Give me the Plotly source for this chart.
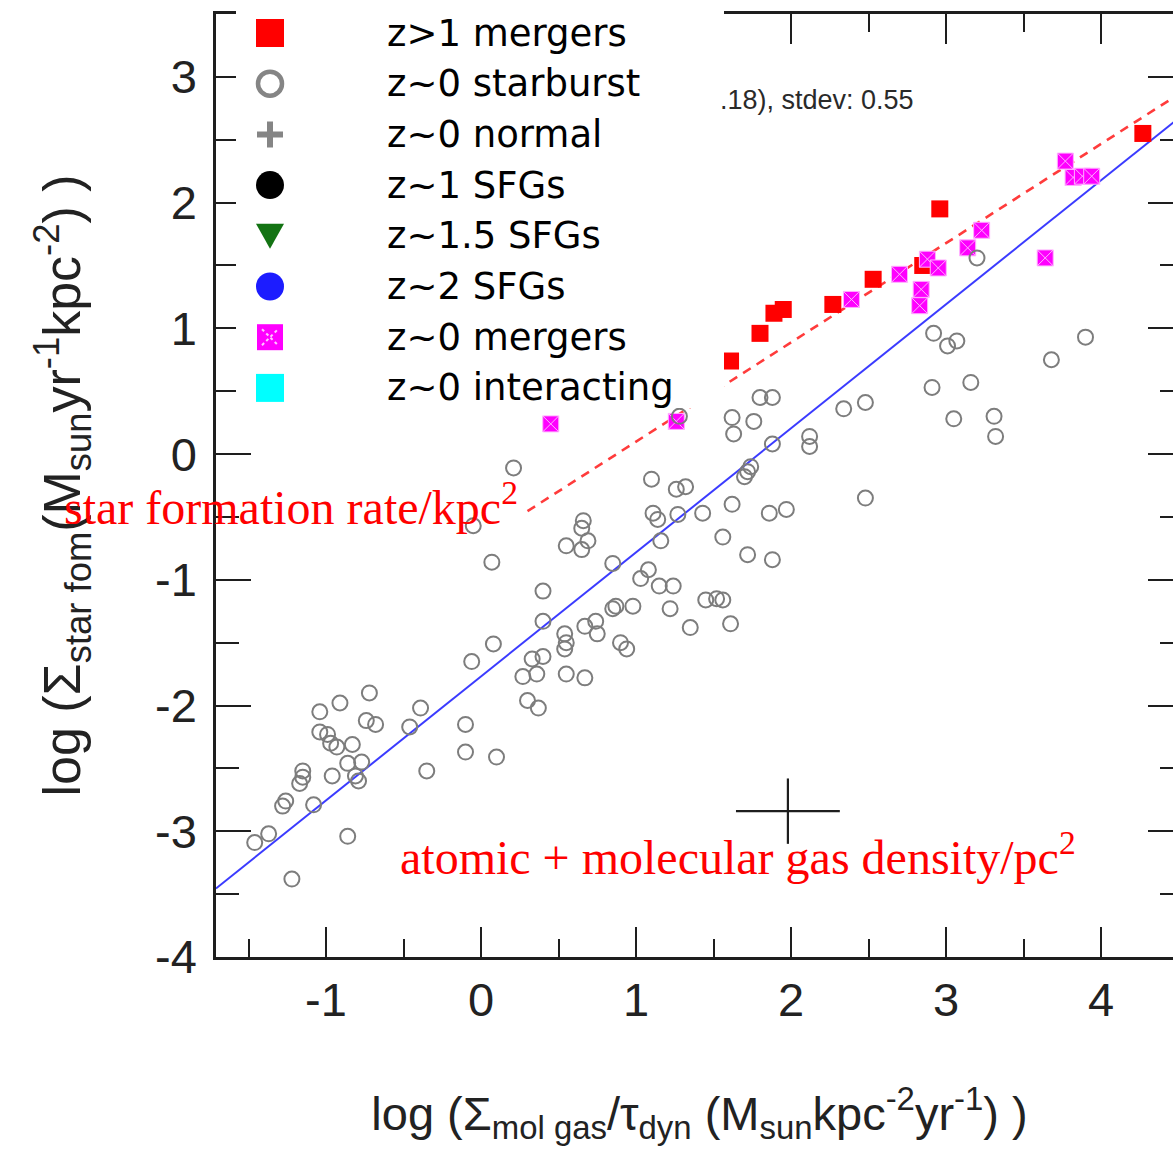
import plotly.graph_objects as go

# ---------------------------------------------------------------- data
# z>1 mergers
hiz_merger_x = [1.61, 1.80, 1.89, 1.95, 2.27, 2.53, 2.85, 2.96, 4.27]
hiz_merger_y = [0.74, 0.96, 1.12, 1.15, 1.19, 1.39, 1.50, 1.95, 2.55]

# z~0 mergers
loz_merger_x = [0.45, 1.26, 2.39, 2.70, 2.84, 2.83, 2.88, 2.95, 3.14, 3.23,
                3.64, 3.77, 3.82, 3.88, 3.94]
loz_merger_y = [0.24, 0.26, 1.23, 1.43, 1.31, 1.18, 1.55, 1.48, 1.64, 1.78,
                1.56, 2.33, 2.20, 2.21, 2.21]

# z~0 starbursts
starburst_x = [-1.46, -1.37, -1.22, -1.28, -1.26, -1.08, -1.17, -1.15, -1.15, -0.86,
               -1.04, -0.91, -0.72, -0.39, -0.74, -0.68, -0.46, -1.04, -0.99, -0.97,
               -0.93, -0.83, -0.86, -0.77, -0.96, -0.81, -0.79, -0.35, -0.10, -0.10,
               0.10, 0.30, 0.37, 0.27, 0.36, 0.33, 0.40, -0.06, 0.08, 0.40,
               0.40, 0.07, -0.05, 0.21, 0.66, 0.65, 0.69, 0.55, 0.65, 0.85,
               0.54, 0.55, 0.54, 0.67, 0.74, 0.75, 0.55, 0.67, 0.85, 0.87,
               0.98, 0.90, 0.94, 1.03, 1.08, 1.15, 1.24, 1.22, 1.45, 1.52,
               1.56, 1.35, 1.61, 1.16, 1.10, 1.26, 1.32, 1.11, 1.14, 1.27,
               1.43, 1.62, 1.72, 1.70, 1.74, 1.86, 1.97, 1.56, 1.72, 1.88,
               1.28, 1.62, 1.76, 1.63, 1.80, 1.88, 1.88, 2.12, 2.12, 2.34,
               2.48, 2.48, 2.92, 3.01, 3.07, 2.91, 3.16, 3.05, 3.31, 3.32,
               3.68, 3.90, 3.20]
starburst_y = [-3.09, -3.02, -3.38, -2.80, -2.76, -2.79, -2.62, -2.57, -2.52, -3.04,
               -2.05, -1.98, -1.90, -2.02, -2.12, -2.15, -2.17, -2.21, -2.23, -2.30,
               -2.33, -2.31, -2.46, -2.45, -2.56, -2.56, -2.60, -2.52, -2.15, -2.37,
               -2.41, -1.96, -2.02, -1.77, -1.75, -1.63, -1.61, -1.65, -1.51, -1.33,
               -1.09, -0.86, -0.57, -0.11, -0.53, -0.59, -0.69, -0.73, -0.76, -0.87,
               -1.43, -1.50, -1.55, -1.37, -1.33, -1.43, -1.75, -1.78, -1.23, -1.21,
               -1.21, -1.50, -1.55, -0.99, -0.92, -1.05, -1.05, -1.23, -1.16, -1.15,
               -1.16, -1.38, -1.35, -0.69, -0.20, -0.28, -0.26, -0.47, -0.52, -0.48,
               -0.47, -0.40, -0.14, -0.18, -0.10, -0.47, -0.44, -0.66, -0.80, -0.84,
               0.30, 0.29, 0.26, 0.16, 0.45, 0.45, 0.08, 0.14, 0.06, 0.36,
               0.41, -0.35, 0.96, 0.86, 0.90, 0.53, 0.57, 0.28, 0.30, 0.14,
               0.75, 0.93, 1.56]

# best-fit relation (solid) and merger relation (dashed), end points
fit_x = [-1.71, 4.53]
fit_y = [-3.455, 2.70]
merger_fit_x = [0.30, 4.53]
merger_fit_y = [-0.454, 2.885]

# typical uncertainty
err_x = [1.98]
err_y = [-2.84]
err_dx = [0.335]
err_dy = [0.26]

legend_labels = ["z>1 mergers", "z~0 starburst", "z~0 normal", "z~1 SFGs",
                 "z~1.5 SFGs", "z~2 SFGs", "z~0 mergers", "z~0 interacting"]
legend_colors = ["#ff0000", "#858585", "#858585", "#000000",
                 "#137313", "#1c1cff", "#ff00ff", "#00ffff"]
legend_kinds = ["square", "ring", "plus", "disc", "tri", "disc", "xsquare", "square"]

x_ticks = [-1, 0, 1, 2, 3, 4]
x_tick_text = ["-1", "0", "1", "2", "3", "4"]
y_ticks = [-4, -3, -2, -1, 0, 1, 2, 3]
y_tick_text = ["-4", "-3", "-2", "-1", "0", "1", "2", "3"]

fit_text = ".18), stdev: 0.55"
sfr_text = "star formation rate/kpc<sup>2</sup>"
gas_text = "atomic + molecular gas density/pc<sup>2</sup>"
x_title = ("log (Σ<sub>mol gas</sub>/τ<sub>dyn</sub> (M<sub>sun</sub>"
           "kpc<sup>-2</sup>yr<sup>-1</sup>) )")
y_title = ("log (Σ<sub>star fom</sub>(M<sub>sun</sub>yr<sup>-1</sup>"
           "kpc<sup>-2</sup>) )")

# ---------------------------------------------------------------- layout geometry
W, H = 1190, 1158
ML, MR, MT, MB = 216, 7, 14, 201
PW, PH = W - ML - MR, H - MT - MB


def fx(px):
    return (px - ML) / PW


def fy(py):
    return (H - MB - py) / PH


SANS = "Liberation Sans, Arial, sans-serif"
SERIF = "Liberation Serif, Times New Roman, serif"
AX = "#1e1e1e"

fig = go.Figure()

fig.add_trace(go.Scatter(x=fit_x, y=fit_y, mode="lines",
                         line=dict(color="#3b3bff", width=2), hoverinfo="skip"))
fig.add_trace(go.Scatter(x=merger_fit_x, y=merger_fit_y, mode="lines",
                         line=dict(color="#ff3b3b", width=2.6, dash="9px,7px"),
                         hoverinfo="skip"))
fig.add_trace(go.Scatter(x=err_x, y=err_y, mode="markers",
                         marker=dict(size=1, color=AX),
                         error_x=dict(type="data", array=err_dx, color=AX,
                                      thickness=2.2, width=0),
                         error_y=dict(type="data", array=err_dy, color=AX,
                                      thickness=2.2, width=0)))
fig.add_trace(go.Scatter(x=hiz_merger_x, y=hiz_merger_y, mode="markers",
                         name="z>1 mergers",
                         marker=dict(symbol="square", size=17, color="#ff0000")))
fig.add_trace(go.Scatter(x=loz_merger_x, y=loz_merger_y, mode="markers",
                         name="z~0 mergers",
                         marker=dict(symbol="square-x", size=16, color="#ff00ff",
                                     line=dict(color="#ffb0ff", width=1))))
fig.add_trace(go.Scatter(x=starburst_x, y=starburst_y, mode="markers",
                         name="z~0 starburst",
                         marker=dict(symbol="circle-open", size=15,
                                     color="#7d7d7d", line=dict(width=2))))

# ---------------------------------------------------------------- key box
shapes = [dict(type="rect", xref="paper", yref="paper", layer="above",
               x0=fx(236), x1=fx(724), y0=fy(408), y1=fy(-5),
               fillcolor="white", line=dict(width=0))]
annotations = []
key_cx, key_tx, key_top, key_step = 270, 385, 33, 50.7
for i, (lab, col, kind) in enumerate(zip(legend_labels, legend_colors, legend_kinds)):
    cy = key_top + i * key_step
    if kind in ("square", "xsquare"):
        h = 14 if kind == "square" else 13
        shapes.append(dict(type="rect", xref="paper", yref="paper", layer="above",
                           x0=fx(key_cx - h), x1=fx(key_cx + h),
                           y0=fy(cy + h), y1=fy(cy - h),
                           fillcolor=col, line=dict(width=0)))
        if kind == "xsquare":
            d = 8
            path = (f"M{fx(key_cx - d)},{fy(cy - d)} L{fx(key_cx + d)},{fy(cy + d)} "
                    f"M{fx(key_cx - d)},{fy(cy + d)} L{fx(key_cx + d)},{fy(cy - d)}")
            shapes.append(dict(type="path", xref="paper", yref="paper", layer="above",
                               path=path, line=dict(color="#ffc8ff", width=2, dash="dot")))
    elif kind == "ring":
        r = 12
        shapes.append(dict(type="circle", xref="paper", yref="paper", layer="above",
                           x0=fx(key_cx - r), x1=fx(key_cx + r),
                           y0=fy(cy + r), y1=fy(cy - r),
                           line=dict(color=col, width=4.5)))
    elif kind == "disc":
        r = 14
        shapes.append(dict(type="circle", xref="paper", yref="paper", layer="above",
                           x0=fx(key_cx - r), x1=fx(key_cx + r),
                           y0=fy(cy + r), y1=fy(cy - r),
                           fillcolor=col, line=dict(width=0)))
    elif kind == "plus":
        r = 13
        path = (f"M{fx(key_cx - r)},{fy(cy)} L{fx(key_cx + r)},{fy(cy)} "
                f"M{fx(key_cx)},{fy(cy - r)} L{fx(key_cx)},{fy(cy + r)}")
        shapes.append(dict(type="path", xref="paper", yref="paper", layer="above",
                           path=path, line=dict(color=col, width=6)))
    elif kind == "tri":
        path = (f"M{fx(key_cx - 14)},{fy(cy - 12)} L{fx(key_cx + 14)},{fy(cy - 12)} "
                f"L{fx(key_cx)},{fy(cy + 13)} Z")
        shapes.append(dict(type="path", xref="paper", yref="paper", layer="above",
                           path=path, fillcolor=col, line=dict(width=0)))
    annotations.append(dict(text=lab, xref="paper", yref="paper",
                            x=fx(key_tx), y=fy(cy), xanchor="left", yanchor="middle",
                            showarrow=False,
                            font=dict(family="DejaVu Sans, sans-serif", size=37,
                                      color="black")))

annotations += [
    dict(text=fit_text, xref="paper", yref="paper", x=fx(916), y=fy(100),
         xanchor="right", yanchor="middle", showarrow=False,
         font=dict(family=SANS, size=27, color="#2a2a2a")),
    dict(text=sfr_text, xref="paper", yref="paper", x=fx(62), y=fy(504),
         xanchor="left", yanchor="middle", showarrow=False,
         font=dict(family=SERIF, size=48, color="#ff0000")),
    dict(text=gas_text, xref="paper", yref="paper", x=fx(398), y=fy(854),
         xanchor="left", yanchor="middle", showarrow=False,
         font=dict(family=SERIF, size=48, color="#ff0000")),
]

axis_common = dict(showgrid=False, zeroline=False, showline=True, linewidth=2.5,
                   linecolor=AX, mirror="ticks", ticks="inside", tickwidth=2,
                   tickcolor=AX, tickmode="array",
                   tickfont=dict(family=SANS, size=47, color="#222222"))

fig.update_layout(
    width=W, height=H,
    margin=dict(l=ML, r=MR, t=MT, b=MB, autoexpand=False),
    paper_bgcolor="white", plot_bgcolor="white",
    showlegend=False,
    shapes=shapes, annotations=annotations,
    xaxis=dict(axis_common, range=[-1.7097, 4.529], tickvals=x_ticks,
               ticktext=x_tick_text, ticklen=30, ticklabelstandoff=0,
               minor=dict(ticks="inside", ticklen=18, tickwidth=2, tickcolor=AX,
                          tickmode="array",
                          tickvals=[v + 0.5 for v in [-2] + x_ticks]),
               title=dict(text=x_title, standoff=72,
                          font=dict(family=SANS, size=47, color="#222222"))),
    yaxis=dict(axis_common, range=[-4, 3.5], tickvals=y_ticks,
               ticktext=y_tick_text, ticklen=35, ticklabelstandoff=7,
               minor=dict(ticks="inside", ticklen=23, tickwidth=2, tickcolor=AX,
                          tickmode="array",
                          tickvals=[v + 0.5 for v in y_ticks]),
               title=dict(text=y_title, standoff=58,
                          font=dict(family=SANS, size=52, color="#222222"))),
)

fig.write_html("out.html",
               post_script="document.documentElement.style.overflow='hidden';"
                           "document.body.style.overflow='hidden';")
